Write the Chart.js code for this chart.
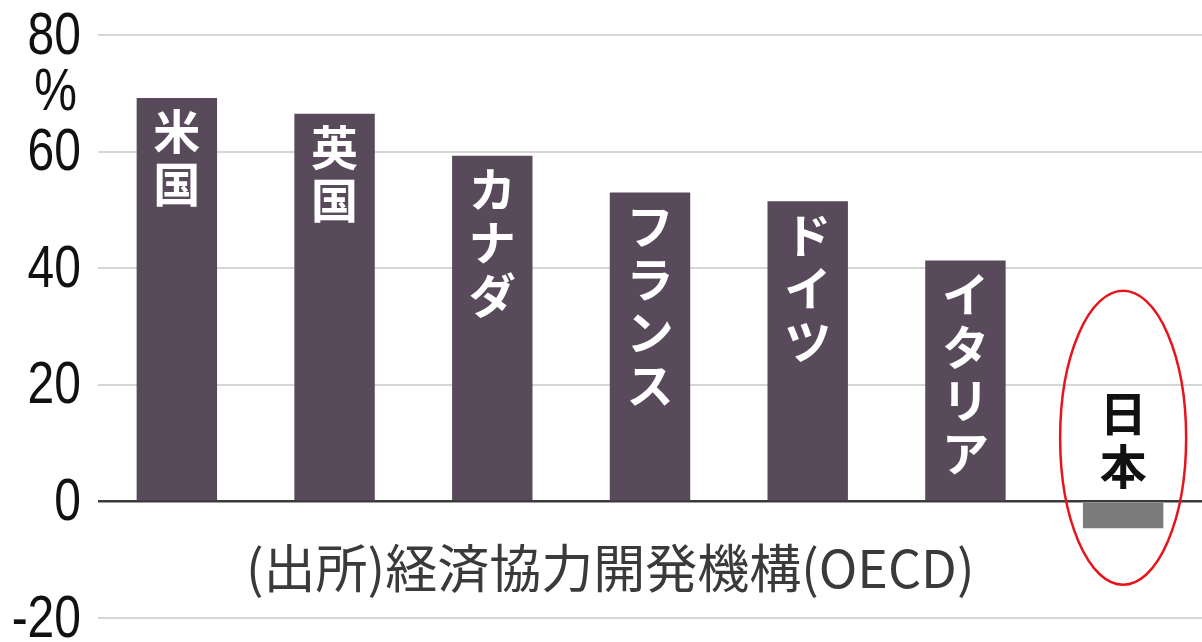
<!DOCTYPE html>
<html lang="ja">
<head>
<meta charset="UTF-8">
<title>実質賃金の伸び率 主要7カ国</title>
<script src="https://cdn.jsdelivr.net/npm/chart.js"></script>
<style>
  html, body { margin: 0; padding: 0; background: #fff; }
  .wrap { width: 1202px; height: 642px; }
</style>
</head>
<body>
<div class="wrap"><canvas id="chart" width="1202" height="642"></canvas></div>
<script>
// countries (also written vertically on the bars)
var countries = ['米国', '英国', 'カナダ', 'フランス', 'ドイツ', 'イタリア', '日本'];
// percent change
var values = [69.2, 66.5, 59.3, 53.0, 51.5, 41.3, -4.6];
var yTicks = [80, 60, 40, 20, 0, -20];
var unitLabel = '%';
var sourceNote = '(出所)経済協力開発機構(OECD)';

var barColor = '#584a5b';
var japanColor = '#7b7b7b';

// narrow tick numbers: Liberation Sans squeezed horizontally
function narrowText(ctx, text, right, y) {
  ctx.save();
  ctx.translate(right, y);
  ctx.scale(0.8, 1);
  ctx.fillText(text, 0, 0);
  ctx.restore();
}

var yLabels = {
  id: 'yLabels',
  afterDraw: function (chart) {
    var ctx = chart.ctx;
    var y = chart.scales.y;
    var right = chart.chartArea.left - 17;
    ctx.save();
    ctx.font = '60px "Liberation Sans"';
    ctx.fillStyle = '#111';
    ctx.textAlign = 'right';
    ctx.textBaseline = 'middle';
    yTicks.forEach(function (v) {
      narrowText(ctx, String(v), right, y.getPixelForValue(v) + 2);
    });
    narrowText(ctx, unitLabel, right - 4, y.getPixelForValue(80) + 58);
    ctx.restore();
  }
};

// vertical country names inside / above each bar
var barLabels = {
  id: 'barLabels',
  afterDatasetsDraw: function (chart) {
    var ctx = chart.ctx;
    var meta = chart.getDatasetMeta(0);
    var zero = chart.scales.y.getPixelForValue(0);
    ctx.save();
    ctx.font = 'bold 47px "Noto Sans CJK JP"';
    ctx.textAlign = 'center';
    ctx.textBaseline = 'top';
    meta.data.forEach(function (bar, i) {
      var chars = Array.from(countries[i]);
      var step = 53;
      if (values[i] >= 0) {
        ctx.fillStyle = '#fff';
        chars.forEach(function (c, k) {
          ctx.fillText(c, bar.x, bar.y + 10 + k * step);
        });
      } else {
        ctx.fillStyle = '#111';
        var start = zero - 12 - chars.length * step;
        chars.forEach(function (c, k) {
          ctx.fillText(c, bar.x, start + 6 + k * step);
        });
      }
    });
    ctx.restore();
  }
};

// source note and the red ring round Japan
var extras = {
  id: 'extras',
  afterDraw: function (chart) {
    var ctx = chart.ctx;
    var y = chart.scales.y;
    var area = chart.chartArea;
    ctx.save();
    ctx.font = '52px "Noto Sans CJK JP"';
    ctx.fillStyle = '#3a3a3a';
    ctx.textAlign = 'left';
    ctx.textBaseline = 'middle';
    ctx.fillText(sourceNote, area.left + 148, y.getPixelForValue(-11.4));

    var jp = chart.getDatasetMeta(0).data[countries.length - 1];
    ctx.strokeStyle = '#e8141c';
    ctx.lineWidth = 2.5;
    ctx.beginPath();
    ctx.ellipse(jp.x, y.getPixelForValue(10.9), 63, 147, 0, 0, Math.PI * 2);
    ctx.stroke();
    ctx.restore();
  }
};

new Chart(document.getElementById('chart'), {
  type: 'bar',
  data: {
    labels: countries,
    datasets: [{
      data: values,
      backgroundColor: function (c) { return c.raw < 0 ? japanColor : barColor; },
      borderWidth: 0,
      barPercentage: 0.51,
      categoryPercentage: 1
    }]
  },
  options: {
    responsive: false,
    animation: false,
    layout: { padding: { top: 35, bottom: 24, left: 0, right: 0 } },
    plugins: { legend: { display: false }, tooltip: { enabled: false } },
    scales: {
      x: { display: false },
      y: {
        min: -20,
        max: 80,
        afterBuildTicks: function (s) { s.ticks = yTicks.map(function (v) { return { value: v }; }); },
        afterFit: function (s) { s.width = 98; },
        border: { display: false },
        grid: {
          drawTicks: false,
          color: function (c) { return c.tick.value === 0 ? '#3a3a3a' : '#d6d6d6'; },
          lineWidth: function (c) { return c.tick.value === 0 ? 2.5 : 2; }
        },
        ticks: { display: false }
      }
    }
  },
  plugins: [barLabels, yLabels, extras]
});
</script>
</body>
</html>
